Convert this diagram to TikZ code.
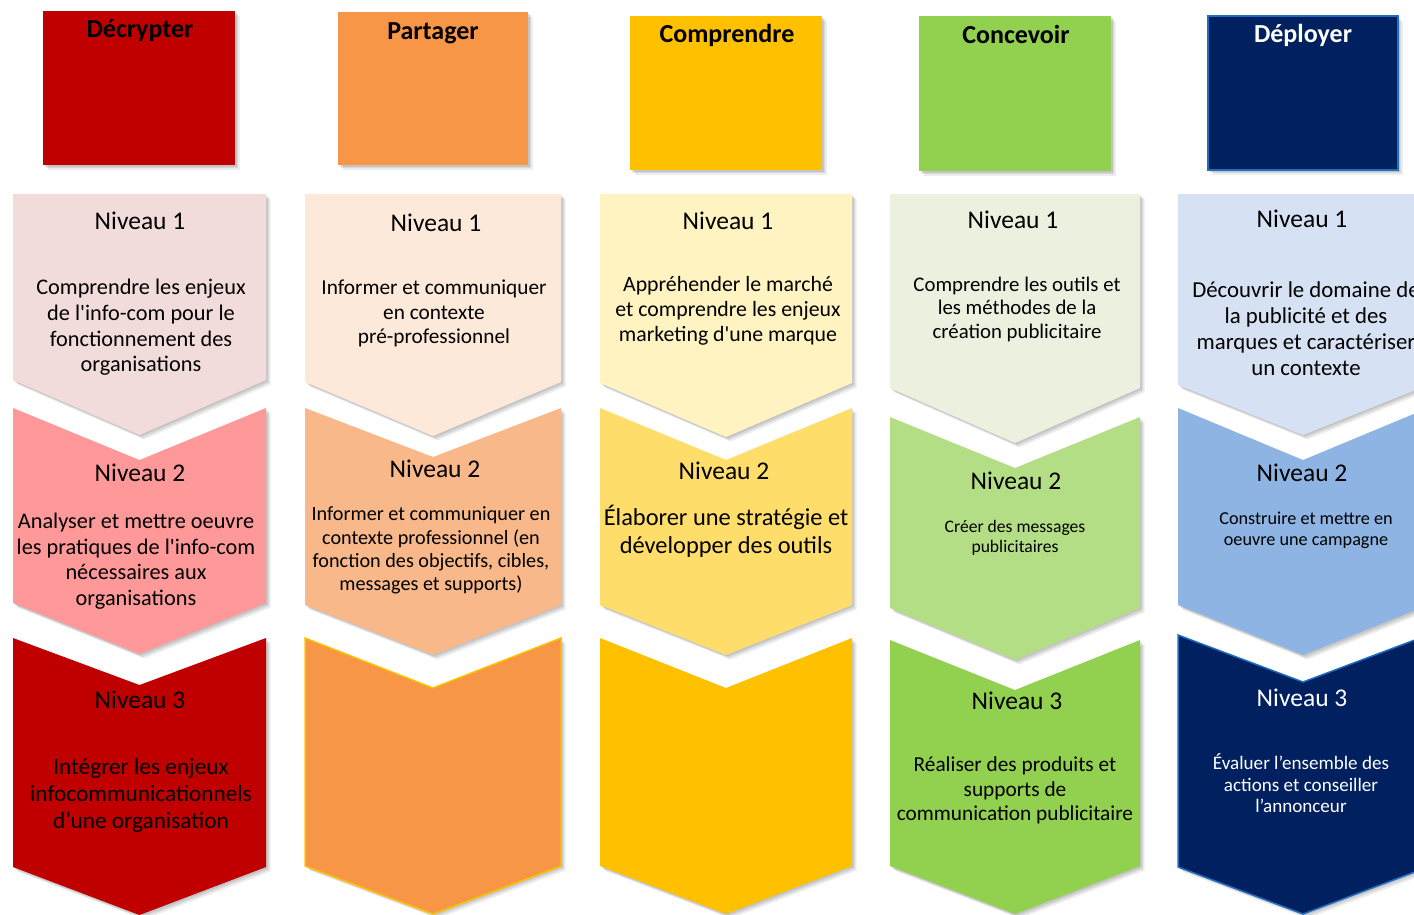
\documentclass[tikz,border=0pt]{standalone}
\usepackage{fontspec}
\setmainfont{Carlito}
\definecolor{rA}{HTML}{C00000}
\definecolor{rB}{HTML}{FF9999}
\definecolor{rC}{HTML}{F2DCDB}
\definecolor{oA}{HTML}{F79646}
\definecolor{oB}{HTML}{F8B88A}
\definecolor{oC}{HTML}{FDE9D9}
\definecolor{yA}{HTML}{FFC000}
\definecolor{yB}{HTML}{FFDD6B}
\definecolor{yC}{HTML}{FFF3C2}
\definecolor{gA}{HTML}{92D050}
\definecolor{gB}{HTML}{B4DE86}
\definecolor{gC}{HTML}{EBF1DE}
\definecolor{bA}{HTML}{002060}
\definecolor{bB}{HTML}{8DB4E2}
\definecolor{bC}{HTML}{D6E2F3}
\definecolor{bLine}{HTML}{1F6FC0}
\newcommand{\sq}{{\XeTeXglyph\XeTeXcharglyph"27 }}
\newcommand{\chevshape}[7]{%
  \path[#1] (#2,#4) -- ({(#2+#3)/2},{#4+#5}) -- (#3,#4) -- (#3,#6) -- ({(#2+#3)/2},{#6+#7}) -- (#2,#6) -- cycle;}
\newcommand{\mytxt}[7]{%
  \node[anchor=north,inner sep=0pt,align=center,font=\fontsize{#4}{#5}\selectfont,
        execute at begin node=\strut,#6] (#1) at (#2,{#3-0.7*#5}) {#7};}
\begin{document}
\begin{tikzpicture}[x=1pt,y=-1pt,
  shad/.style={
    preaction={fill=black,opacity=.09,transform canvas={xshift=1.5pt,yshift=-1.5pt}},
    preaction={fill=black,opacity=.09,transform canvas={xshift=3pt,yshift=-3pt}},
    preaction={fill=black,opacity=.07,transform canvas={xshift=4.5pt,yshift=-4.5pt}}}]
\useasboundingbox (0,0) rectangle (1414,914);
\clip (0,0) rectangle (1414,914);
% headers
\fill[shad,fill=rA] (43,11) rectangle (235,165);
\fill[shad,fill=oA] (338,12) rectangle (528,165);
\fill[shad,fill=yA] (630,16) rectangle (822,170);
\fill[shad,fill=gA] (919,16) rectangle (1111,171);
\path[shad,fill=bA,draw=bLine,line width=1.5pt] (1208,16) rectangle (1398,170);
% column 1
\chevshape{shad,fill=rC}{13}{266}{194}{0}{380}{55}
\chevshape{shad,fill=rB}{13}{266}{408}{52}{603}{51}
\chevshape{shad,fill=rA}{13}{266}{638}{47}{867}{48}
% column 2
\chevshape{shad,fill=oC}{305}{561}{194}{0}{382}{54}
\chevshape{shad,fill=oB}{305}{561}{408}{49}{605}{50}
\chevshape{shad,fill=oA,draw=yA,line width=1.5pt}{305}{561}{638}{50}{866}{48}
% column 3
\chevshape{shad,fill=yC}{600}{852}{194}{0}{383}{54}
\chevshape{shad,fill=yB}{600}{852}{408}{52}{605}{50}
\chevshape{shad,fill=yA}{600}{852}{638}{50}{866}{48}
% column 4
\chevshape{shad,fill=gC}{890}{1140}{194}{0}{388}{55}
\chevshape{shad,fill=gB}{890}{1140}{417}{51}{608}{52}
\chevshape{shad,fill=gA}{890}{1140}{640}{50}{866}{48}
% column 5
\chevshape{shad,fill=bC}{1178}{1428}{194}{0}{385}{50}
\chevshape{shad,fill=bB}{1178}{1428}{408}{52}{605}{50}
\chevshape{shad,fill=bA,draw=bLine,line width=1.5pt}{1178}{1428}{635}{47}{867}{47}
% texts column 1
\mytxt{t1}{140}{37}{26}{30}{}{\bfseries Décrypter}
\mytxt{c1h1}{140}{229}{25.5}{29}{}{Niveau 1}
\mytxt{c1b1}{141}{297}{22.3}{25.7}{}{Comprendre les enjeux\\de l\sq info-com pour le\\fonctionnement des\\organisations}
\mytxt{c1h2}{140}{481}{25.5}{29}{}{Niveau 2}
\mytxt{c1b2}{136}{531}{22.3}{25.5}{}{Analyser et mettre oeuvre\\les pratiques de l\sq info-com\\nécessaires aux\\organisations}
\mytxt{c1h3}{140}{708}{25.5}{29}{}{Niveau 3}
\mytxt{c1b3}{141}{777}{23.3}{26.7}{}{Intégrer les enjeux\\infocommunicationnels\\d’une organisation}
% texts column 2
\mytxt{t2}{433}{39}{26}{30}{}{\bfseries Partager}
\mytxt{c2h1}{436}{231}{25.5}{29}{}{Niveau 1}
\mytxt{c2b1}{434}{297}{21.3}{24.5}{}{Informer et communiquer\\en contexte\\pré-professionnel}
\mytxt{c2h2}{435}{477}{25.5}{29}{}{Niveau 2}
\mytxt{c2b2}{431}{523}{20.2}{23.3}{}{Informer et communiquer en\\contexte professionnel (en\\fonction des objectifs, cibles,\\messages et supports)}
% texts column 3
\mytxt{t3}{727}{42}{26}{30}{}{\bfseries Comprendre}
\mytxt{c3h1}{728}{229}{25.5}{29}{}{Niveau 1}
\mytxt{c3b1}{728}{294}{21.8}{25}{}{Appréhender le marché\\et comprendre les enjeux\\marketing d\sq une marque}
\mytxt{c3h2}{724}{479}{25.5}{29}{}{Niveau 2}
\mytxt{c3b2}{726}{525}{24.4}{28}{}{Élaborer une stratégie et\\développer des outils}
% texts column 4
\mytxt{t4}{1016}{43}{26}{30}{}{\bfseries Concevoir}
\mytxt{c4h1}{1013}{228}{25.5}{29}{}{Niveau 1}
\mytxt{c4b1}{1017}{293}{20.8}{23.5}{}{Comprendre les outils et\\les méthodes de la\\création publicitaire}
\mytxt{c4h2}{1016}{489}{25.5}{29}{}{Niveau 2}
\mytxt{c4b2}{1015}{534}{17.6}{20}{}{Créer des messages\\publicitaires}
\mytxt{c4h3}{1017}{709}{25.5}{29}{}{Niveau 3}
\mytxt{c4b3}{1015}{774}{21.3}{24.5}{}{Réaliser des produits et\\supports de\\communication publicitaire}
% texts column 5
\mytxt{t5}{1303}{42}{26}{30}{text=white}{\bfseries Déployer}
\mytxt{c5h1}{1302}{227}{25.5}{29}{}{Niveau 1}
\mytxt{c5b1}{1306}{300}{22.8}{26}{}{Découvrir le domaine de\\la publicité et des\\marques et caractériser\\un contexte}
\mytxt{c5h2}{1302}{481}{25.5}{29}{}{Niveau 2}
\mytxt{c5b2}{1306}{526}{18.2}{21}{}{Construire et mettre en\\oeuvre une campagne}
\mytxt{c5h3}{1302}{706}{25.5}{29}{text=white}{Niveau 3}
\mytxt{c5b3}{1301}{768.5}{19.1}{21.5}{text=white}{Évaluer l’ensemble des\\actions et conseiller\\l’annonceur}
\end{tikzpicture}
\end{document}
